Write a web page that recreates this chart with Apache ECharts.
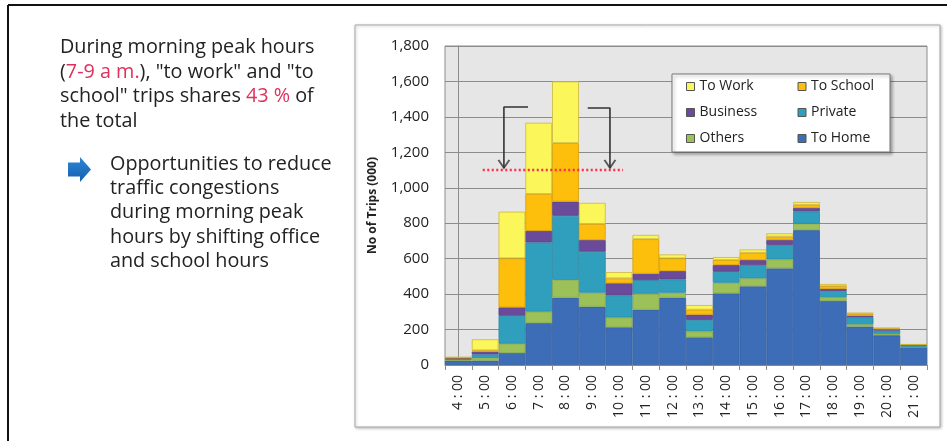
<!DOCTYPE html>
<html>
<head>
<meta charset="utf-8">
<script src="https://cdn.jsdelivr.net/npm/echarts@6/dist/echarts.min.js"></script>
<style>
  html, body { margin: 0; padding: 0; background: #fff; }
  #chart { width: 947px; height: 441px; }
</style>
</head>
<body>
<div id="chart"></div>
<script>
// Hourly trip counts (thousands), stacked by purpose
const hours = ['4:00', '5:00', '6:00', '7:00', '8:00', '9:00', '10:00', '11:00', '12:00',
  '13:00', '14:00', '15:00', '16:00', '17:00', '18:00', '19:00', '20:00', '21:00'];
const toHome       = [25, 25, 68, 237, 380, 329, 213, 312, 380, 156, 404, 444, 545, 761, 362, 217, 168, 100];
const others       = [4, 15, 52, 64, 100, 79, 55, 90, 28, 34, 60, 45, 51, 36, 20, 13, 8, 4];
const privateTrips = [6, 20, 158, 391, 362, 231, 125, 77, 75, 64, 62, 75, 81, 70, 36, 40, 18, 5];
const business     = [4, 15, 47, 65, 80, 66, 68, 36, 47, 30, 38, 28, 28, 19, 12, 8, 8, 4];
const toSchool     = [3, 8, 277, 208, 330, 90, 28, 195, 72, 28, 28, 41, 19, 18, 15, 10, 4, 2];
const toWork       = [3, 62, 263, 402, 348, 120, 35, 24, 22, 26, 17, 19, 19, 16, 12, 8, 4, 2];

const yTicks = [0, 200, 400, 600, 800, 1000, 1200, 1400, 1600, 1800];

// Morning-peak annotation: threshold line and the two bracket arrows (x in hour-index units)
const peakLevel = 1100;
const peakSpan = [0.91, 6.15];
const leftBracket = [[2.6, 1456], [1.7, 1456], [1.7, 1112]];
const rightBracket = [[4.83, 1450], [5.66, 1450], [5.66, 1112]];

const colors = {
  'To Home':   ['#3d6db6', '#35609f'],
  'Others':    ['#9cc158', '#86a84a'],
  'Private':   ['#2f9fbd', '#2a8aa5'],
  'Business':  ['#6a4b9b', '#5a3f86'],
  'To School': ['#fdbf0c', '#d99d00'],
  'To Work':   ['#fbf65a', '#cdb63a']
};

const stackOrder = [
  ['To Home', toHome],
  ['Others', others],
  ['Private', privateTrips],
  ['Business', business],
  ['To School', toSchool],
  ['To Work', toWork]
];

const chart = echarts.init(document.getElementById('chart'), null, { renderer: 'canvas' });

const barSeries = stackOrder.map(([name, values]) => ({
  name: name,
  type: 'bar',
  stack: 'trips',
  xAxisIndex: 0,
  yAxisIndex: 0,
  barCategoryGap: '0%',
  data: values,
  itemStyle: { color: colors[name][0], borderColor: colors[name][1], borderWidth: 0.8 },
  emphasis: { disabled: true }
}));

const arrowHead = 'path://M0,0L5,7L10,0';

function bracketSeries(points) {
  return [{
    type: 'line',
    xAxisIndex: 1,
    yAxisIndex: 0,
    data: points,
    symbol: 'none',
    lineStyle: { color: '#333', width: 1.6 },
    z: 6,
    silent: true
  }, {
    type: 'scatter',
    xAxisIndex: 1,
    yAxisIndex: 0,
    data: [points[points.length - 1]],
    symbol: arrowHead,
    symbolSize: [11, 8],
    symbolOffset: [0, -4],
    itemStyle: { color: 'none', borderColor: '#333', borderWidth: 1.6 },
    z: 6,
    silent: true
  }];
}

const font = "'Open Sans', 'Noto Sans', sans-serif";
const bodySize = 19.8;

function textLine(x, y, text, size) {
  return {
    type: 'text',
    x: x, y: y,
    z: 10,
    style: {
      text: text,
      font: size + 'px ' + font,
      fill: '#222',
      verticalAlign: 'middle',
      rich: { r: { fill: '#e0305e', font: size + 'px ' + font } }
    }
  };
}

const option = {
  animation: false,
  textStyle: { fontFamily: font },
  grid: {
    left: 445, right: 20, top: 46, bottom: 76,
    show: true,
    backgroundColor: '#e6e6e6',
    borderColor: '#8c8c8c',
    borderWidth: 1
  },
  legend: {
    orient: 'vertical',
    left: 686,
    top: 78,
    height: 72,
    padding: 0,
    itemGap: 9,
    itemWidth: 8,
    itemHeight: 8,
    icon: 'rect',
    itemStyle: { borderColor: '#555', borderWidth: 1 },
    textStyle: { fontSize: 14, color: '#222', width: 89, lineHeight: 17, fontFamily: font },
    data: ['To Work', 'Business', 'Others', 'To School', 'Private', 'To Home'],
    selectedMode: false,
    z: 8
  },
  xAxis: [{
    type: 'category',
    data: hours,
    boundaryGap: true,
    axisLine: { lineStyle: { color: '#8c8c8c' } },
    axisTick: { show: true, length: 5, lineStyle: { color: '#8c8c8c' } },
    axisLabel: {
      rotate: 90,
      margin: 10,
      fontSize: 14,
      color: '#222',
      formatter: v => v.replace(':', ' : ')
    }
  }, {
    type: 'value',
    min: -0.5,
    max: 17.5,
    show: false
  }],
  yAxis: [{
    type: 'value',
    min: 0,
    max: 1800,
    interval: 200,
    name: 'No of Trips (000)',
    nameLocation: 'middle',
    nameRotate: 90,
    nameGap: 66,
    nameTextStyle: { fontSize: 12, fontWeight: 'bold', color: '#222' },
    axisLine: { show: true, lineStyle: { color: '#8c8c8c' } },
    axisTick: { show: true, length: 4, lineStyle: { color: '#8c8c8c' } },
    axisLabel: {
      margin: 16,
      fontSize: 15,
      color: '#222',
      customValues: yTicks,
      formatter: v => v.toLocaleString('en-US')
    },
    splitLine: { lineStyle: { color: '#8c8c8c', width: 1 } }
  }],
  series: barSeries.concat([{
    type: 'line',
    xAxisIndex: 1,
    yAxisIndex: 0,
    data: peakSpan.map(x => [x, peakLevel]),
    symbol: 'none',
    lineStyle: { color: '#ff2a4a', width: 2.5, type: [2, 2.5] },
    z: 6,
    silent: true
  }], bracketSeries(leftBracket), bracketSeries(rightBracket)),
  graphic: [
    // slide frame
    { type: 'line', shape: { x1: 8, y1: 5, x2: 947, y2: 5 }, style: { stroke: '#111', lineWidth: 2 }, z: 1 },
    { type: 'line', shape: { x1: 8, y1: 5, x2: 8, y2: 441 }, style: { stroke: '#111', lineWidth: 2 }, z: 1 },
    // chart area frame
    {
      type: 'rect', z: -1,
      shape: { x: 355, y: 25, width: 585, height: 402 },
      style: { fill: '#fff', stroke: '#a8a8a8', lineWidth: 1, shadowBlur: 3, shadowColor: 'rgba(0,0,0,0.25)', shadowOffsetX: 1, shadowOffsetY: 1 }
    },
    // legend box
    {
      type: 'rect', z: 7,
      shape: { x: 672, y: 74, width: 218, height: 78 },
      style: { fill: '#fff', stroke: '#777', lineWidth: 1, shadowBlur: 3, shadowColor: 'rgba(0,0,0,0.3)', shadowOffsetX: 2, shadowOffsetY: 2 }
    },
    // commentary
    textLine(60, 47, 'During morning peak hours', bodySize),
    textLine(60, 72, '({r|7-9 a m.}), "to work" and "to', bodySize),
    textLine(60, 96.5, 'school" trips shares {r|43 %} of', bodySize),
    textLine(60, 121, 'the total', bodySize),
    {
      type: 'polygon', z: 10,
      shape: { points: [[68, 162.5], [80, 162.5], [80, 157], [91, 169.5], [80, 182], [80, 176.5], [68, 176.5]] },
      style: {
        fill: new echarts.graphic.LinearGradient(0, 0, 0, 1, [
          { offset: 0, color: '#2d86d6' }, { offset: 1, color: '#145fae' }
        ])
      }
    },
    textLine(110, 164, 'Opportunities to reduce', bodySize),
    textLine(110, 188.5, 'traffic congestions', bodySize),
    textLine(110, 212.5, 'during morning peak', bodySize),
    textLine(110, 237, 'hours by shifting office', bodySize),
    textLine(110, 261.5, 'and school hours', bodySize)
  ]
};

chart.setOption(option);
</script>
</body>
</html>
